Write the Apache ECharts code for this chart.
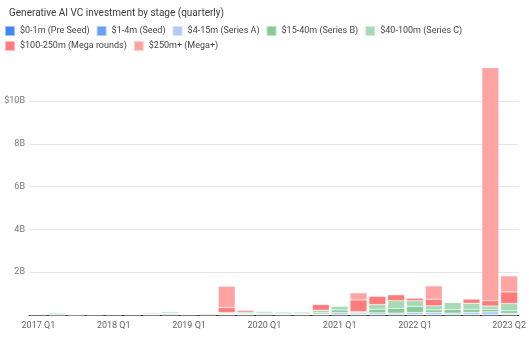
<!DOCTYPE html>
<html>
<head>
<meta charset="utf-8">
<script src="https://cdn.jsdelivr.net/npm/echarts@6/dist/echarts.min.js"></script>
<style>
html,body{margin:0;padding:0;background:#fff;}
#chart{width:529px;height:339px;}
</style>
</head>
<body>
<div id="chart"></div>
<script>
// Categories (quarters)
const quarters = ["2017 Q1","2017 Q2","2017 Q3","2017 Q4","2018 Q1","2018 Q2","2018 Q3","2018 Q4",
  "2019 Q1","2019 Q2","2019 Q3","2019 Q4","2020 Q1","2020 Q2","2020 Q3","2020 Q4",
  "2021 Q1","2021 Q2","2021 Q3","2021 Q4","2022 Q1","2022 Q2","2022 Q3","2022 Q4","2023 Q1","2023 Q2"];
// Series values in billions USD
const preSeed  = [0.005,0.002,0.002,0.002,0.005,0.005,0.003,0.003,0.005,0.003,0.005,0.005,0.005,0.005,0.005,0.005,0.005,0.005,0.005,0.005,0.005,0.005,0.005,0.005,0.005,0.005];
const seed     = [0.01,0.005,0.005,0.005,0.01,0.01,0.007,0.01,0.01,0.005,0.01,0.01,0.01,0.01,0.01,0.01,0.01,0.01,0.01,0.01,0.01,0.01,0.01,0.01,0.01,0.01];
const seriesA  = [0.02,0.01,0.005,0.03,0.01,0.01,0.02,0.05,0.01,0.01,0.03,0.02,0.04,0.02,0.02,0.03,0.1,0.04,0.085,0.075,0.105,0.105,0.075,0.115,0.135,0.065];
const seriesB  = [0,0.04,0.03,0.02,0,0,0.02,0.03,0,0.05,0.03,0.04,0.04,0.04,0.04,0.06,0.12,0.05,0.17,0.22,0.28,0.12,0.16,0.14,0.12,0.12];
const seriesC  = [0,0.06,0,0,0,0,0.06,0.07,0,0,0.04,0.06,0.08,0.07,0.07,0.12,0.18,0.05,0.22,0.36,0.27,0.19,0.34,0.28,0.15,0.34];
const mega     = [0,0,0,0,0,0,0,0,0,0,0.23,0.09,0,0,0,0.27,0,0.55,0.39,0.28,0.12,0.31,0,0.2,0.25,0.54];
const megaPlus = [0,0,0,0,0,0,0,0,0,0,1.0,0,0,0,0,0,0,0.33,0,0,0,0.62,0,0,10.9,0.75];
// Series names
const seriesNames = ["$0-1m (Pre Seed)","$1-4m (Seed)","$4-15m (Series A)","$15-40m (Series B)","$40-100m (Series C)","$100-250m (Mega rounds)","$250m+ (Mega+)"];
// Y tick labels
const yTicks = [0,2,4,6,8,10];
const yTickLabels = ["","2B","4B","6B","8B","$10B"];
const xTickLabels = ["2017 Q1","2018 Q1","2019 Q1","2020 Q1","2021 Q1","2022 Q1","2023 Q2"];

const colors = ["#4285f4","#6a9ff6","#aecbfa","#85cb93","#a8dab5","#ff7b7b","#ffa3a3"];
const values = [preSeed, seed, seriesA, seriesB, seriesC, mega, megaPlus];

const chart = echarts.init(document.getElementById('chart'), null, {renderer:'canvas'});
const font = 'Roboto, "Noto Sans", sans-serif';
const option = {
  animation:false,
  color: colors,
  title:{
    text:"Generative AI VC investment by stage (quarterly)",
    left:4, top:3,
    textStyle:{fontFamily:font,fontSize:10,fontWeight:'normal',color:'#3c3c3c'}
  },
  legend:[
    {data:seriesNames.slice(0,5), left:4, top:25, itemWidth:10, itemHeight:10, itemGap:6,
     icon:'rect', textStyle:{fontFamily:font,fontSize:9,color:'#444'}, padding:0},
    {data:seriesNames.slice(5), left:4, top:40, itemWidth:10, itemHeight:10, itemGap:6,
     icon:'rect', textStyle:{fontFamily:font,fontSize:9,color:'#444'}, padding:0}
  ],
  grid:{left:29, right:10, top:67, bottom:24, containLabel:false},
  xAxis:{
    type:'category', data:quarters,
    axisLine:{show:true, lineStyle:{color:'#333', width:1}},
    axisTick:{show:false},
    axisLabel:{
      color:'#666', fontFamily:font, fontSize:9, margin:6,
      interval:(i, v)=> xTickLabels.indexOf(v) >= 0,
    }
  },
  yAxis:{
    type:'value', min:0, max:11.6, interval:2,
    axisLine:{show:false}, axisTick:{show:false},
    axisLabel:{
      color:'#777', fontFamily:font, fontSize:9, margin:4, showMaxLabel:false,
      formatter:(v)=>{ const k = yTicks.indexOf(v); return k>=0 ? yTickLabels[k] : ''; }
    },
    splitLine:{lineStyle:{color:['#e6e6e6','#e6e6e6','#e6e6e6','#e6e6e6','#e6e6e6','#e6e6e6','rgba(0,0,0,0)'], width:1}}
  },
  series: seriesNames.map((n, k)=>({
    name:n, type:'bar', stack:'total', data:values[k],
    barCategoryGap:'10%',
    itemStyle:{color:colors[k], borderColor:'rgba(255,255,255,0.5)', borderWidth:0.5},
    emphasis:{disabled:true}
  }))
};
chart.setOption(option);
</script>
</body>
</html>
